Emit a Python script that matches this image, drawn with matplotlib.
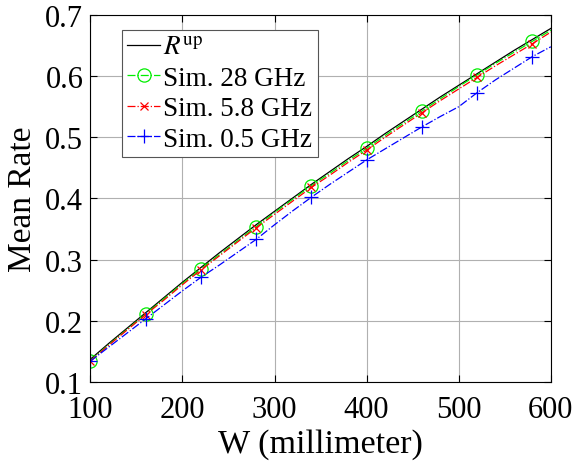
import numpy as np
import matplotlib
matplotlib.use('Agg')
import matplotlib.pyplot as plt

plt.rcParams['font.family'] = ['Liberation Serif', 'DejaVu Serif']
plt.rcParams['mathtext.fontset'] = 'stix'

# W in millimeter
w = [100, 120, 140, 160, 180, 200, 220, 240, 260, 280, 300, 320, 340,
     360, 380, 400, 420, 440, 460, 480, 500, 520, 540, 560, 580, 600]

# upper bound R^up
r_up = [0.137, 0.163, 0.188, 0.213, 0.238, 0.263, 0.287, 0.311, 0.334,
        0.357, 0.379, 0.401, 0.423, 0.444, 0.465, 0.485, 0.506, 0.526,
        0.546, 0.566, 0.585, 0.604, 0.623, 0.642, 0.660, 0.678]

# simulations
sim_28 = [0.135, 0.161, 0.186, 0.211, 0.236, 0.261, 0.285, 0.308, 0.331,
          0.354, 0.377, 0.399, 0.421, 0.441, 0.462, 0.482, 0.503, 0.523,
          0.543, 0.563, 0.583, 0.602, 0.621, 0.639, 0.657, 0.675]
sim_58 = [0.134, 0.160, 0.185, 0.210, 0.234, 0.259, 0.283, 0.306, 0.329,
          0.352, 0.374, 0.396, 0.418, 0.438, 0.459, 0.479, 0.500, 0.520,
          0.540, 0.560, 0.579, 0.598, 0.617, 0.635, 0.653, 0.672]
sim_05 = [0.134, 0.157, 0.180, 0.203, 0.226, 0.249, 0.271, 0.291, 0.312,
          0.333, 0.357, 0.380, 0.402, 0.423, 0.443, 0.463, 0.481, 0.499,
          0.517, 0.534, 0.550, 0.573, 0.594, 0.613, 0.632, 0.648]

fig = plt.figure(figsize=(5.75, 4.64), dpi=100)
ax = fig.add_axes([0.157, 0.1746, 0.801, 0.791])

ax.plot(w, r_up, '-', color='k', lw=0.9, label=r'$R^{\mathrm{up}}$')
ax.plot(w, sim_28, '-.', color='#00ee00', lw=0.9, marker='o', ms=9.5,
        mfc='none', mew=0.9, markevery=3, label='Sim. 28 GHz')
ax.plot(w, sim_58, '-.', color='r', lw=0.9, marker='x', ms=6,
        mew=0.9, markevery=3, label='Sim. 5.8 GHz')
ax.plot(w, sim_05, '-.', color='b', lw=0.9, marker='+', ms=10,
        mew=0.9, markevery=3, label='Sim. 0.5 GHz')

ax.set_xlim(100, 600)
ax.set_ylim(0.1, 0.7)
ax.set_xticks([100, 200, 300, 400, 500, 600])
ax.set_yticks([0.1, 0.2, 0.3, 0.4, 0.5, 0.6, 0.7])
ax.grid(True, color='#b0b0b0', lw=0.8)
ax.tick_params(direction='in', top=True, right=True, labelsize=22, length=5)
ax.tick_params(axis='x', pad=9.5)
ax.tick_params(axis='y', pad=5)
for s in ax.spines.values():
    s.set_linewidth(0.8)

ax.set_xlabel('W (millimeter)', fontsize=24.5, labelpad=3)
ax.set_ylabel('Mean Rate', fontsize=24, labelpad=5)

leg = ax.legend(loc='upper left', bbox_to_anchor=(0.069, 0.959), fontsize=19.5,
                handlelength=1.2, handletextpad=0.12, labelspacing=0.2,
                borderpad=0.2, borderaxespad=0, fancybox=False,
                framealpha=1, edgecolor='#555555')
leg.get_frame().set_linewidth(0.8)

fig.savefig('out.png', dpi=100)
